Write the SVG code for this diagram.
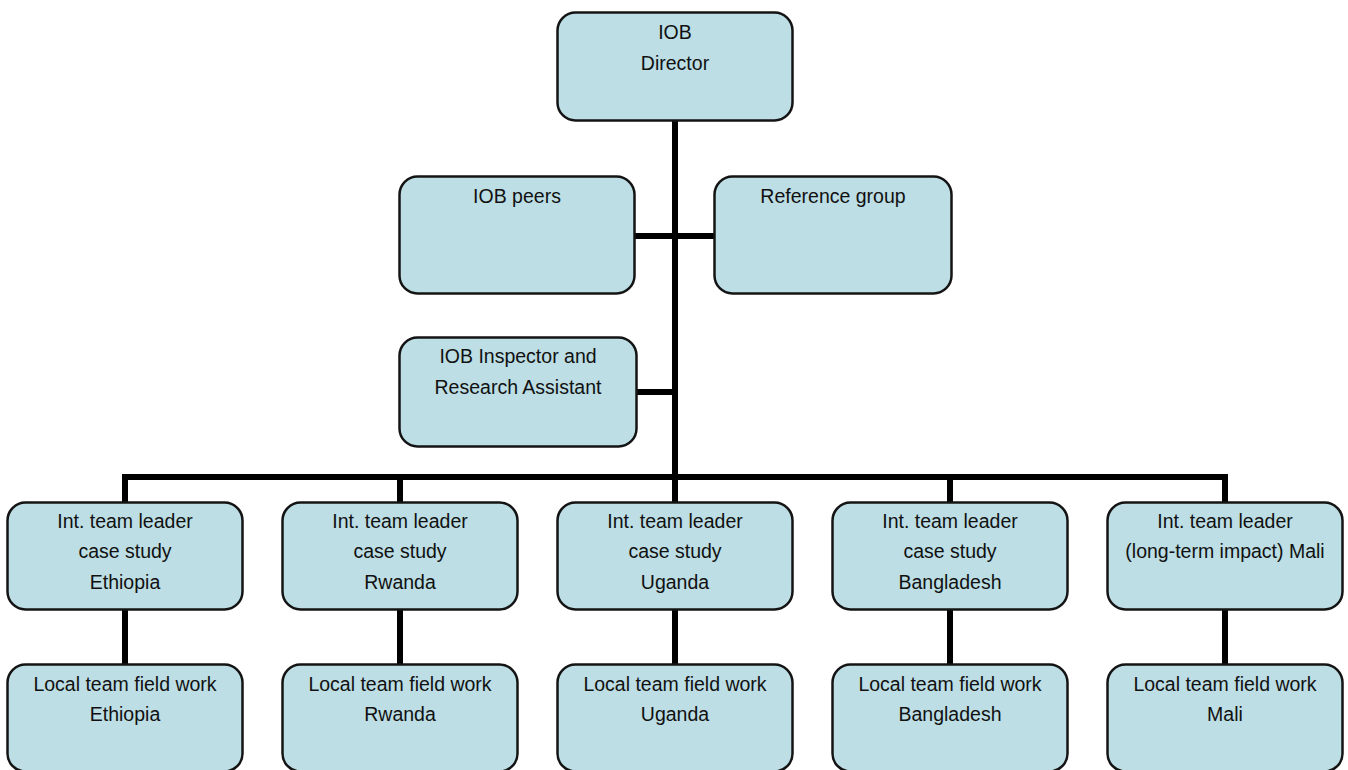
<svg xmlns="http://www.w3.org/2000/svg" width="1348" height="770" viewBox="0 0 1348 770">
<style>
.box{fill:#bcdee4;stroke:#141414;stroke-width:2.5}
.t{font-family:"Liberation Sans",Arial,sans-serif;font-size:19.5px;fill:#111;text-anchor:middle}
.c{stroke:#000;stroke-width:6;fill:none}
</style>
<rect width="1348" height="770" fill="#fff"/>
<g id="connectors">
<line class="c" x1="675" y1="121" x2="675" y2="477"/>
<line class="c" x1="635" y1="236" x2="714" y2="236"/>
<line class="c" x1="637" y1="392" x2="675" y2="392"/>
<line class="c" x1="122" y1="477" x2="1228" y2="477"/>
<line class="c" x1="125" y1="474" x2="125" y2="502"/>
<line class="c" x1="400" y1="474" x2="400" y2="502"/>
<line class="c" x1="675" y1="474" x2="675" y2="502"/>
<line class="c" x1="950" y1="474" x2="950" y2="502"/>
<line class="c" x1="1225" y1="474" x2="1225" y2="502"/>
<line class="c" x1="125" y1="610" x2="125" y2="664"/>
<line class="c" x1="400" y1="610" x2="400" y2="664"/>
<line class="c" x1="675" y1="610" x2="675" y2="664"/>
<line class="c" x1="950" y1="610" x2="950" y2="664"/>
<line class="c" x1="1225" y1="610" x2="1225" y2="664"/>
</g>
<g id="director">
<rect class="box" x="557.5" y="12.5" width="235" height="108" rx="18"/>
<text class="t" x="675" y="39">IOB</text>
<text class="t" x="675" y="70">Director</text>
</g>
<g id="peers">
<rect class="box" x="399.5" y="176.5" width="235" height="117" rx="18"/>
<text class="t" x="517" y="203">IOB peers</text>
</g>
<g id="reference">
<rect class="box" x="714.5" y="176.5" width="237" height="117" rx="18"/>
<text class="t" x="833" y="203">Reference group</text>
</g>
<g id="inspector">
<rect class="box" x="399.5" y="337.5" width="237" height="109" rx="18"/>
<text class="t" x="518" y="363">IOB Inspector and</text>
<text class="t" x="518" y="394">Research Assistant</text>
</g>
<g id="lead-ethiopia">
<rect class="box" x="7.5" y="502.5" width="235" height="107" rx="18"/>
<text class="t" x="125" y="528">Int. team leader</text>
<text class="t" x="125" y="558">case study</text>
<text class="t" x="125" y="589">Ethiopia</text>
</g>
<g id="lead-rwanda">
<rect class="box" x="282.5" y="502.5" width="235" height="107" rx="18"/>
<text class="t" x="400" y="528">Int. team leader</text>
<text class="t" x="400" y="558">case study</text>
<text class="t" x="400" y="589">Rwanda</text>
</g>
<g id="lead-uganda">
<rect class="box" x="557.5" y="502.5" width="235" height="107" rx="18"/>
<text class="t" x="675" y="528">Int. team leader</text>
<text class="t" x="675" y="558">case study</text>
<text class="t" x="675" y="589">Uganda</text>
</g>
<g id="lead-bangladesh">
<rect class="box" x="832.5" y="502.5" width="235" height="107" rx="18"/>
<text class="t" x="950" y="528">Int. team leader</text>
<text class="t" x="950" y="558">case study</text>
<text class="t" x="950" y="589">Bangladesh</text>
</g>
<g id="lead-mali">
<rect class="box" x="1107.5" y="502.5" width="235" height="107" rx="18"/>
<text class="t" x="1225" y="528">Int. team leader</text>
<text class="t" x="1225" y="558">(long-term impact) Mali</text>
</g>
<g id="local-ethiopia">
<rect class="box" x="7.5" y="664.5" width="235" height="107" rx="18"/>
<text class="t" x="125" y="691">Local team field work</text>
<text class="t" x="125" y="721">Ethiopia</text>
</g>
<g id="local-rwanda">
<rect class="box" x="282.5" y="664.5" width="235" height="107" rx="18"/>
<text class="t" x="400" y="691">Local team field work</text>
<text class="t" x="400" y="721">Rwanda</text>
</g>
<g id="local-uganda">
<rect class="box" x="557.5" y="664.5" width="235" height="107" rx="18"/>
<text class="t" x="675" y="691">Local team field work</text>
<text class="t" x="675" y="721">Uganda</text>
</g>
<g id="local-bangladesh">
<rect class="box" x="832.5" y="664.5" width="235" height="107" rx="18"/>
<text class="t" x="950" y="691">Local team field work</text>
<text class="t" x="950" y="721">Bangladesh</text>
</g>
<g id="local-mali">
<rect class="box" x="1107.5" y="664.5" width="235" height="107" rx="18"/>
<text class="t" x="1225" y="691">Local team field work</text>
<text class="t" x="1225" y="721">Mali</text>
</g>
</svg>
